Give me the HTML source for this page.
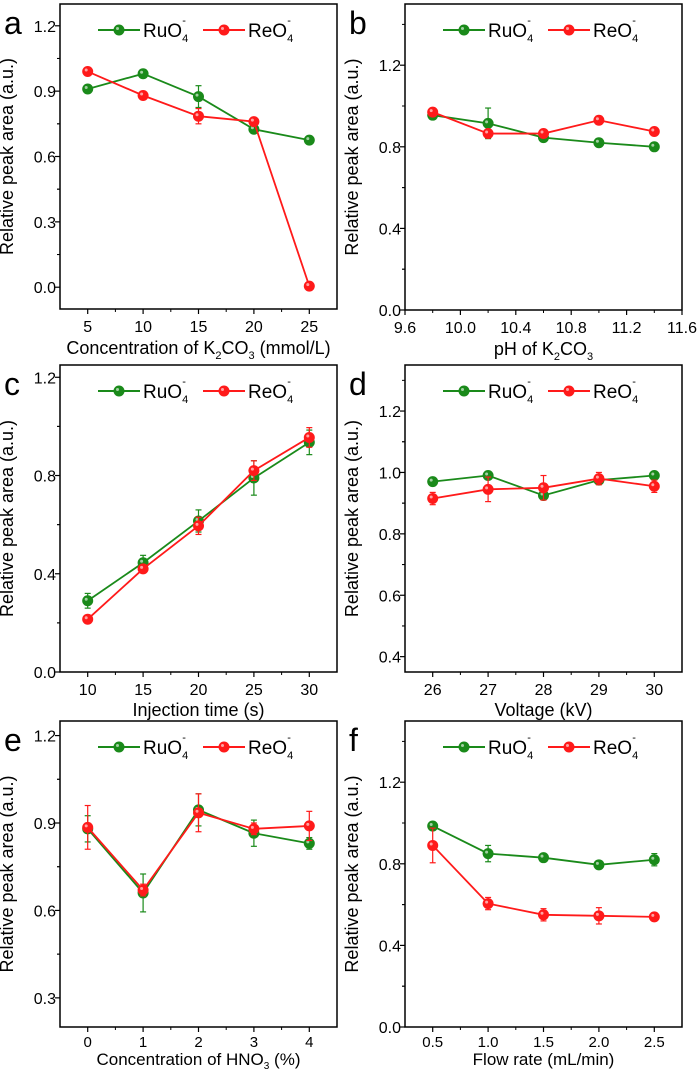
<!DOCTYPE html>
<html><head><meta charset="utf-8"><style>
body{margin:0;background:#fff}
svg{display:block;font-family:"Liberation Sans",sans-serif}
</style></head><body>
<svg id="fig" width="700" height="1073"></svg>
<script>
const aX=[5,10,15,20,25], aRu=[0.91,0.98,0.875,0.725,0.675], aRuE=[0.01,0.01,0.05,0.01,0.01], aRe=[0.99,0.88,0.785,0.76,0.005], aReE=[0.01,0.01,0.035,0.01,0.01];
const bX=[9.8,10.2,10.6,11.0,11.4], bRu=[0.955,0.915,0.845,0.82,0.80], bRuE=[0.01,0.075,0.01,0.01,0.015], bRe=[0.97,0.865,0.865,0.93,0.875], bReE=[0.01,0.01,0.01,0.02,0.01];
const cX=[10,15,20,25,30], cRu=[0.29,0.445,0.615,0.79,0.935], cRuE=[0.03,0.03,0.045,0.07,0.05], cRe=[0.215,0.42,0.595,0.82,0.955], cReE=[0.01,0.015,0.035,0.04,0.04];
const dX=[26,27,28,29,30], dRu=[0.97,0.99,0.925,0.975,0.99], dRuE=[0.01,0.01,0.01,0.01,0.01], dRe=[0.915,0.945,0.95,0.98,0.955], dReE=[0.02,0.04,0.04,0.02,0.02];
const eX=[0,1,2,3,4], eRu=[0.88,0.66,0.945,0.865,0.83], eRuE=[0.045,0.065,0.055,0.045,0.02], eRe=[0.885,0.67,0.935,0.88,0.89], eReE=[0.075,0.02,0.065,0.02,0.05];
const fX=[0.5,1.0,1.5,2.0,2.5], fRu=[0.985,0.85,0.83,0.795,0.82], fRuE=[0.01,0.04,0.01,0.01,0.03], fRe=[0.89,0.605,0.55,0.545,0.54], fReE=[0.085,0.03,0.03,0.04,0.01];
const aXT=["5","10","15","20","25"], aYT=["0.0","0.3","0.6","0.9","1.2"];
const bXT=["9.6","10.0","10.4","10.8","11.2","11.6"], bYT=["0.0","0.4","0.8","1.2"];
const cXT=["10","15","20","25","30"], cYT=["0.0","0.4","0.8","1.2"];
const dXT=["26","27","28","29","30"], dYT=["0.4","0.6","0.8","1.0","1.2"];
const eXT=["0","1","2","3","4"], eYT=["0.3","0.6","0.9","1.2"];
const fXT=["0.5","1.0","1.5","2.0","2.5"], fYT=["0.0","0.4","0.8","1.2"];

const NS="http://www.w3.org/2000/svg", svg=document.getElementById('fig');
function mk(p,t,a,txt){const e=document.createElementNS(NS,t);for(const k in a)e.setAttribute(k,a[k]);if(txt!=null)e.textContent=txt;p.appendChild(e);return e;}
const GREEN="#1a8a1a", RED="#ff1a1a";
function panel(o){
  const g=mk(svg,'g',{});
  
  
  const sx=v=>o.L+(v-o.x0)/(o.x1-o.x0)*(o.R-o.L);
  const sy=v=>o.B-(v-o.y0)/(o.y1-o.y0)*(o.B-o.T);
  const box=mk(g,'rect',{x:o.L,y:o.T,width:o.R-o.L,height:o.B-o.T,fill:'none',stroke:'#000','stroke-width':1.5});
  
  const tkOff=o.tkOff||23, tkFs=o.tkFs||16;
  o.xt.forEach((s,i)=>{const v=parseFloat(s),x=sx(v);
    mk(g,'line',{x1:x,y1:o.B,x2:x,y2:o.B+5,stroke:'#000','stroke-width':1.2});
    const t=mk(g,'text',{x:x,y:o.B+tkOff,'text-anchor':'middle','font-size':tkFs},s);
    
    if(i<o.xt.length-1){const xm=sx(v+o.xs/2);mk(g,'line',{x1:xm,y1:o.B,x2:xm,y2:o.B+3,stroke:'#000','stroke-width':1});}
    if(i==0&&sx(v-o.xs/2)>o.L){const xm=sx(v-o.xs/2);mk(g,'line',{x1:xm,y1:o.B,x2:xm,y2:o.B+3,stroke:'#000','stroke-width':1});}
    if(i==o.xt.length-1&&sx(v+o.xs/2)<o.R){const xm=sx(v+o.xs/2);mk(g,'line',{x1:xm,y1:o.B,x2:xm,y2:o.B+3,stroke:'#000','stroke-width':1});}
  });
  o.yt.forEach((s,i)=>{const v=parseFloat(s),y=sy(v);
    mk(g,'line',{x1:o.L-5,y1:y,x2:o.L,y2:y,stroke:'#000','stroke-width':1.2});
    const t=mk(g,'text',{x:o.L-4,y:y+6,'text-anchor':'end','font-size':16},s);
    
    [v-o.ys/2,v+o.ys/2].forEach(m=>{const ym=sy(m);if(ym>o.T&&ym<o.B)mk(g,'line',{x1:o.L-3,y1:ym,x2:o.L,y2:ym,stroke:'#000','stroke-width':1});});
  });
  const xt=mk(g,'text',{x:(o.L+o.R)/2,y:o.B+(o.tOff||45),'text-anchor':'middle','font-size':o.tFs||18});
  xt.innerHTML=o.xlab;
  const yx=o.L-47,yy=(o.T+o.B)/2;
  const yt=mk(g,'text',{x:yx,y:yy,'text-anchor':'middle','font-size':18,transform:`rotate(-90 ${yx} ${yy})`},'Relative peak area (a.u.)');
  
  const lt=mk(g,'text',{x:o.L-56,y:o.T+30,'font-size':32},o.id);
  
  const ly=o.T+26, lx=o.L+38;
  [[GREEN,'RuO'],[RED,'ReO']].forEach(([c,n],k)=>{
    const x=lx+k*105;
    const lg=mk(g,'g',{});
    
    mk(lg,'line',{x1:x,y1:ly,x2:x+42,y2:ly,stroke:c,'stroke-width':2});
    mk(lg,'circle',{cx:x+21,cy:ly,r:5.5,fill:c});
    mk(lg,'circle',{cx:x+19.5,cy:ly-1.5,r:1.5,fill:'#fff',opacity:0.6});
    const t=mk(lg,'text',{x:x+45,y:ly+7,'font-size':19});
    t.innerHTML=n+'<tspan font-size="11" dy="5">4</tspan><tspan font-size="11" dx="-6" dy="-18">-</tspan>';
  });
  [[o.ru,o.ruE,GREEN,'ruo4'],[o.re,o.reE,RED,'reo4']].forEach(([ys,es,c,n])=>{
    const sg=mk(g,'g',{});
    
    mk(sg,'polyline',{points:o.x.map((x,i)=>sx(x)+','+sy(ys[i])).join(' '),fill:'none',stroke:c,'stroke-width':1.8});
    o.x.forEach((x,i)=>{const X=sx(x),y1=sy(ys[i]-es[i]),y2=sy(ys[i]+es[i]);
      mk(sg,'line',{x1:X,y1:y1,x2:X,y2:y2,stroke:c,'stroke-width':1.2});
      mk(sg,'line',{x1:X-3,y1:y1,x2:X+3,y2:y1,stroke:c,'stroke-width':1.2});
      mk(sg,'line',{x1:X-3,y1:y2,x2:X+3,y2:y2,stroke:c,'stroke-width':1.2});
      const p=mk(sg,'circle',{cx:X,cy:sy(ys[i]),r:5.5,fill:c});
      
      mk(sg,'circle',{cx:X-1.5,cy:sy(ys[i])-1.5,r:1.5,fill:'#fff',opacity:0.6});
    });
  });
}
const K2='K<tspan font-size="11" dy="5">2</tspan><tspan dy="-5">CO</tspan><tspan font-size="11" dy="5">3</tspan>';
panel({id:'a',L:60,R:337,T:4,B:309,x0:2.5,x1:27.5,y0:-0.1,y1:1.3,xs:5,ys:0.3,xt:aXT,yt:aYT,x:aX,ru:aRu,ruE:aRuE,re:aRe,reE:aReE,xlab:'Concentration of '+K2+'<tspan dy="-5"> (mmol/L)</tspan>'});
panel({id:'b',L:405,R:682,T:4,B:310,x0:9.6,x1:11.6,y0:0,y1:1.5,xs:0.4,ys:0.4,xt:bXT,yt:bYT,x:bX,ru:bRu,ruE:bRuE,re:bRe,reE:bReE,xlab:'pH of '+K2});
panel({id:'c',L:60,R:337,T:365,B:672,x0:7.5,x1:32.5,y0:0,y1:1.25,xs:5,ys:0.4,xt:cXT,yt:cYT,x:cX,ru:cRu,ruE:cRuE,re:cRe,reE:cReE,xlab:'Injection time (s)',tOff:44});
panel({id:'d',L:405,R:682,T:365,B:672,x0:25.5,x1:30.5,y0:0.35,y1:1.35,xs:1,ys:0.2,xt:dXT,yt:dYT,x:dX,ru:dRu,ruE:dRuE,re:dRe,reE:dReE,xlab:'Voltage (kV)',tOff:44});
panel({id:'e',L:60,R:337,T:721,B:1027,x0:-0.5,x1:4.5,y0:0.2,y1:1.25,xs:1,ys:0.3,xt:eXT,yt:eYT,x:eX,ru:eRu,ruE:eRuE,re:eRe,reE:eReE,xlab:'Concentration of HNO<tspan font-size="10" dy="4">3</tspan><tspan dy="-4"> (%)</tspan>',tOff:38,tFs:17,tkOff:20,tkFs:15});
panel({id:'f',L:405,R:682,T:721,B:1027,x0:0.25,x1:2.75,y0:0,y1:1.5,xs:0.5,ys:0.4,xt:fXT,yt:fYT,x:fX,ru:fRu,ruE:fRuE,re:fRe,reE:fReE,xlab:'Flow rate (mL/min)',tOff:38,tFs:17,tkOff:20,tkFs:15});
</script>
</body></html>
